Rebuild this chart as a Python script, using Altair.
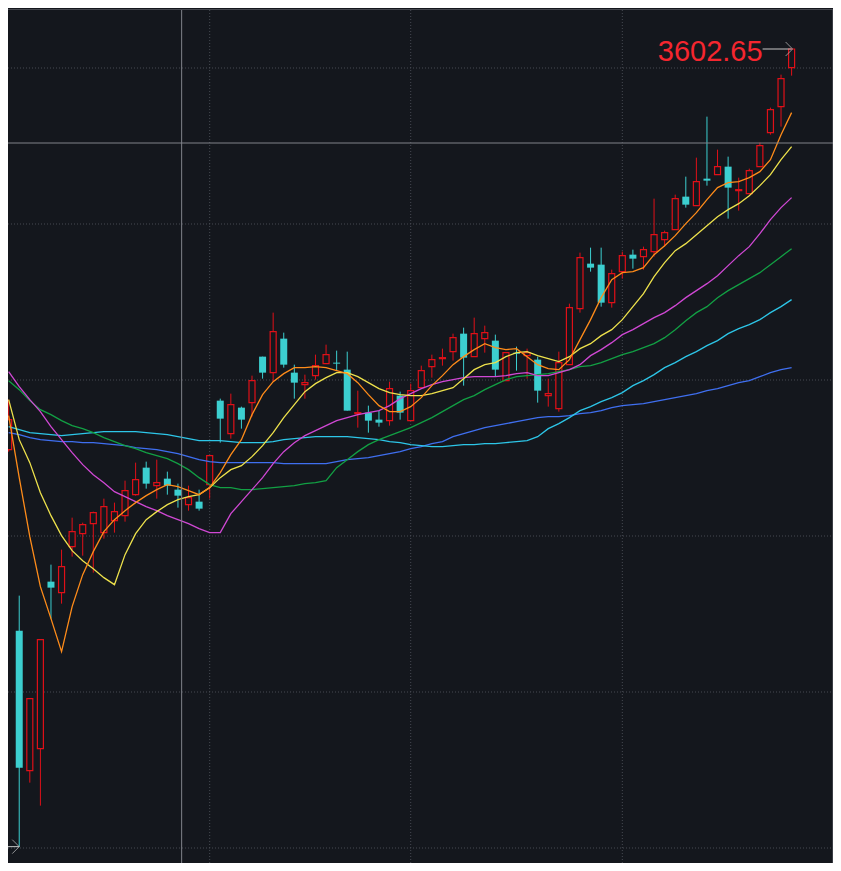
import altair as alt
import pandas as pd

# ---------------- data ----------------
opens = [3202, 3021, 2881, 2903, 3070, 3059, 3105, 3118, 3128, 3119,
         3131, 3136, 3157, 3184, 3166, 3173, 3162, 3147, 3150, 3167,
         3251, 3218, 3244, 3249, 3295, 3279, 3313, 3279, 3267, 3276,
         3288, 3289, 3282, 3238, 3239, 3232, 3231, 3256, 3231, 3264,
         3285, 3293, 3300, 3318, 3295, 3313, 3311, 3271, 3299, 3296,
         3292, 3256, 3243, 3287, 3343, 3388, 3387, 3349, 3380, 3397,
         3395, 3400, 3412, 3422, 3455, 3446, 3473, 3477, 3485, 3461,
         3458, 3485, 3519, 3545, 3584]
highs = [3252, 3056, 2953, 3012, 3087, 3102, 3134, 3129, 3140, 3153,
         3149, 3171, 3189, 3190, 3192, 3180, 3168, 3166, 3162, 3196,
         3253, 3258, 3245, 3276, 3295, 3339, 3319, 3287, 3277, 3297,
         3307, 3301, 3300, 3261, 3246, 3241, 3270, 3260, 3268, 3286,
         3297, 3303, 3318, 3324, 3334, 3326, 3317, 3299, 3305, 3303,
         3295, 3273, 3300, 3348, 3399, 3404, 3404, 3382, 3400, 3402,
         3405, 3453, 3421, 3457, 3475, 3494, 3535, 3502, 3495, 3474,
         3483, 3509, 3544, 3577, 3602.65]
lows = [3200, 2805, 2869, 2846, 3033, 3048, 3095, 3096, 3079, 3113,
        3119, 3130, 3156, 3163, 3153, 3157, 3144, 3141, 3141, 3153,
        3209, 3213, 3223, 3235, 3273, 3270, 3284, 3253, 3253, 3272,
        3288, 3281, 3241, 3224, 3219, 3225, 3226, 3232, 3231, 3264,
        3274, 3286, 3291, 3266, 3295, 3299, 3275, 3271, 3281, 3273,
        3249, 3245, 3240, 3287, 3339, 3380, 3345, 3344, 3373, 3383,
        3382, 3395, 3405, 3422, 3444, 3446, 3466, 3477, 3433, 3441,
        3458, 3485, 3517, 3525, 3576]
closes = [3232, 2884, 2953, 3012, 3064, 3085, 3120, 3127, 3139, 3145,
          3140, 3161, 3172, 3168, 3169, 3166, 3156, 3154, 3143, 3196,
          3233, 3247, 3232, 3271, 3279, 3320, 3287, 3269, 3269, 3286,
          3297, 3288, 3241, 3239, 3231, 3229, 3263, 3239, 3261, 3281,
          3292, 3294, 3314, 3294, 3318, 3319, 3282, 3299, 3298, 3299,
          3261, 3258, 3289, 3344, 3394, 3384, 3349, 3378, 3396, 3393,
          3402, 3417, 3419, 3453, 3447, 3470, 3471, 3485, 3464, 3462,
          3481, 3506, 3542, 3573, 3602.65]

ma5 = [3236, 3174, 3115, 3065, 3033, 3000, 3045, 3077, 3100, 3120,
       3132, 3141, 3149, 3156, 3162, 3167, 3165, 3161, 3157, 3164,
       3179, 3197, 3212, 3237, 3257, 3270, 3278, 3284, 3284, 3285,
       3284, 3281, 3278, 3269, 3257, 3246, 3240, 3240, 3245, 3254,
       3266, 3276, 3287, 3295, 3302, 3308, 3304, 3302, 3303, 3295,
       3287, 3283, 3282, 3292, 3312, 3332, 3354, 3372, 3379, 3380,
       3384, 3397, 3406, 3416, 3428, 3439, 3452, 3464, 3469, 3470,
       3474, 3480, 3492, 3517, 3539]
ma10 = [3252, 3212, 3189, 3159, 3136, 3116, 3101, 3091, 3083, 3074,
        3067, 3097, 3118, 3132, 3140, 3147, 3152, 3155, 3157, 3164,
        3174, 3182, 3186, 3195, 3206, 3219, 3234, 3247, 3260, 3268,
        3274, 3279, 3279, 3275, 3269, 3263, 3259, 3257, 3256, 3256,
        3258, 3261, 3264, 3273, 3282, 3287, 3289, 3295, 3299, 3300,
        3296, 3293, 3290, 3295, 3303, 3308, 3316, 3322, 3332, 3345,
        3358, 3375, 3389, 3401, 3408, 3417, 3426, 3435, 3442, 3448,
        3456, 3466, 3477, 3492, 3505]
ma20 = [3280, 3265, 3252, 3240, 3225, 3212, 3199, 3187, 3177, 3169,
        3160, 3155, 3150, 3145, 3141, 3136, 3132, 3128, 3123, 3119,
        3119, 3138, 3150, 3162, 3174, 3188, 3200, 3209, 3216, 3221,
        3226, 3231, 3234, 3237, 3239, 3241, 3246, 3253, 3258, 3263,
        3267, 3270, 3272, 3274, 3275, 3275, 3275, 3276, 3278, 3279,
        3276, 3276, 3279, 3282, 3287, 3296, 3302, 3309, 3317, 3322,
        3328, 3334, 3339, 3346, 3354, 3361, 3368, 3376, 3386, 3396,
        3405, 3418, 3432, 3444, 3454]
ma30 = [3271, 3262, 3251, 3242, 3237, 3231, 3226, 3223, 3219, 3214,
        3210, 3206, 3203, 3199, 3196, 3193, 3188, 3182, 3174, 3167,
        3164, 3164, 3162, 3162, 3163, 3164, 3165, 3166, 3168, 3169,
        3171, 3184, 3192, 3200, 3207, 3212, 3216, 3220, 3224, 3229,
        3234, 3240, 3246, 3252, 3256, 3262, 3267, 3272, 3275, 3276,
        3277, 3278, 3280, 3282, 3285, 3286, 3289, 3293, 3297, 3300,
        3304, 3308, 3314, 3322, 3331, 3339, 3345, 3354, 3361, 3367,
        3373, 3379, 3387, 3395, 3403]
ma60 = [3225, 3222, 3219, 3218, 3217, 3216, 3217, 3218, 3219, 3220,
        3220, 3220, 3220, 3219, 3218, 3217, 3215, 3213, 3211, 3211,
        3211, 3210, 3209, 3209, 3209, 3210, 3212, 3213, 3214, 3215,
        3215, 3215, 3215, 3214, 3213, 3212, 3210, 3209, 3207, 3206,
        3205, 3205, 3206, 3207, 3207, 3208, 3208, 3209, 3210, 3211,
        3215, 3223, 3228, 3234, 3241, 3245, 3250, 3254, 3259, 3266,
        3271, 3277, 3284, 3289, 3295, 3300, 3306, 3311, 3318, 3323,
        3327, 3332, 3339, 3345, 3352]
ma120 = [3219, 3217, 3214, 3212, 3211, 3210, 3210, 3209, 3209, 3208,
         3207, 3206, 3204, 3203, 3202, 3200, 3198, 3195, 3192, 3190,
         3189, 3189, 3189, 3189, 3189, 3189, 3188, 3188, 3188, 3188,
         3188, 3190, 3192, 3193, 3194, 3196, 3198, 3200, 3203, 3205,
         3208, 3210, 3215, 3218, 3221, 3224, 3226, 3228, 3230, 3232,
         3234, 3235, 3235, 3236, 3238, 3239, 3241, 3244, 3246, 3247,
         3248, 3250, 3252, 3254, 3256, 3258, 3261, 3263, 3266, 3269,
         3271, 3275, 3279, 3282, 3284]

grid_prices = [3583.65, 3427.65, 3271.65, 3115.65, 2959.65, 2803.65]
grid_idx = [19, 38, 58]
cross_idx = 16.35
cross_price = 3508.65
high_label = "3602.65"

# ---------------- styles ----------------
BG = "#14171d"
RED = "#e01018"
CYAN = "#3ccfd0"
GRID = "#474a52"
LINE_COLORS = ["#ff8c1a", "#eee24c", "#d048d4", "#12a044", "#2dc6e8", "#3f6ff0"]
W, H = 825, 855

n = len(opens)
idx = list(range(n))
df = pd.DataFrame({"i": idx, "open": opens, "high": highs, "low": lows, "close": closes})
df["top"] = df[["open", "close"]].max(axis=1)
df["bot"] = df[["open", "close"]].min(axis=1)
df["up"] = df["close"] >= df["open"]

xs = alt.Scale(domain=[0.411, 77.44], nice=False, zero=False)
ys = alt.Scale(domain=[2788.65, 3643.65], nice=False, zero=False)


def X(f="i"):
    return alt.X(f"{f}:Q", scale=xs, axis=None)


def Y(f):
    return alt.Y(f"{f}:Q", scale=ys, axis=None)


up = df[df["up"]]
dn = df[~df["up"]]

layers = []

# grid
layers.append(alt.Chart(pd.DataFrame({"p": grid_prices})).mark_rule(
    color=GRID, strokeDash=[1, 2], strokeWidth=1).encode(
    y=Y("p"), x=alt.value(0), x2=alt.value(W)))
layers.append(alt.Chart(pd.DataFrame({"g": grid_idx})).mark_rule(
    color=GRID, strokeDash=[1, 2], strokeWidth=1).encode(
    x=X("g"), y=alt.value(2), y2=alt.value(H)))

# frame lines
layers.append(alt.Chart(pd.DataFrame({"k": [0]})).mark_rule(color="#44474e", strokeWidth=1).encode(
    x=alt.value(0), x2=alt.value(W), y=alt.value(1.5)))
layers.append(alt.Chart(pd.DataFrame({"k": [0]})).mark_rule(color="#3a3d44", strokeWidth=1).encode(
    x=alt.value(W - 0.5), y=alt.value(2), y2=alt.value(H)))

# wicks
layers.append(alt.Chart(up).mark_rule(color=RED, strokeWidth=1).encode(
    x=X(), y=Y("low"), y2=alt.Y2("high")))
layers.append(alt.Chart(dn).mark_rule(color=CYAN, strokeWidth=1).encode(
    x=X(), y=Y("low"), y2=alt.Y2("high")))
# bodies
layers.append(alt.Chart(up).mark_bar(width=6, fill=BG, stroke=RED, strokeWidth=1.2).encode(
    x=X(), y=Y("top"), y2=alt.Y2("bot")))
layers.append(alt.Chart(dn).mark_bar(width=7, color=CYAN).encode(
    x=X(), y=Y("top"), y2=alt.Y2("bot")))

# moving averages
for arr, col in zip([ma120, ma60, ma30, ma20, ma10, ma5], LINE_COLORS[::-1]):
    layers.append(alt.Chart(pd.DataFrame({"i": idx, "v": arr})).mark_line(
        color=col, strokeWidth=1.3).encode(x=X(), y=Y("v")))

# crosshair
layers.append(alt.Chart(pd.DataFrame({"c": [cross_idx]})).mark_rule(color="#80838a", strokeWidth=1).encode(
    x=X("c"), y=alt.value(2), y2=alt.value(H)))
layers.append(alt.Chart(pd.DataFrame({"p": [cross_price]})).mark_rule(color="#80838a", strokeWidth=1).encode(
    y=Y("p"), x=alt.value(0), x2=alt.value(W)))

# high marker (last candle)
last = df.iloc[[n - 1]]
layers.append(alt.Chart(last).mark_rule(color="#c8c8c8", strokeWidth=1, xOffset=-29).encode(
    x=X(), x2=alt.X2("i"), y=Y("high")))
layers.append(alt.Chart(last).mark_point(
    shape="M-1,-1L0,0L-1,1", size=196, filled=False, color="#c8c8c8", strokeWidth=1, xOffset=1).encode(
    x=X(), y=Y("high")))
layers.append(alt.Chart(last.assign(label=high_label)).mark_text(
    align="right", baseline="alphabetic", dx=-29, dy=12, fontSize=29,
    font="Liberation Sans", color="#f5262f").encode(
    x=X(), y=Y("high"), text="label:N"))

# low marker (lowest candle)
lowrow = df.loc[[df["low"].idxmin()]]
layers.append(alt.Chart(lowrow).mark_rule(color="#c8c8c8", strokeWidth=1).encode(
    x=X(), x2=alt.value(0), y=Y("low")))
layers.append(alt.Chart(lowrow).mark_point(
    shape="M-1,-1L0,0L-1,1", size=196, filled=False, color="#c8c8c8", strokeWidth=1).encode(
    x=X(), y=Y("low")))

chart = alt.layer(*layers).properties(
    width=W, height=H, padding=0,
    autosize=alt.AutoSizeParams(type="none"),
    background=BG,
).configure_view(strokeWidth=0)

chart.save("out.html", embed_options={"renderer": "svg", "actions": False})
